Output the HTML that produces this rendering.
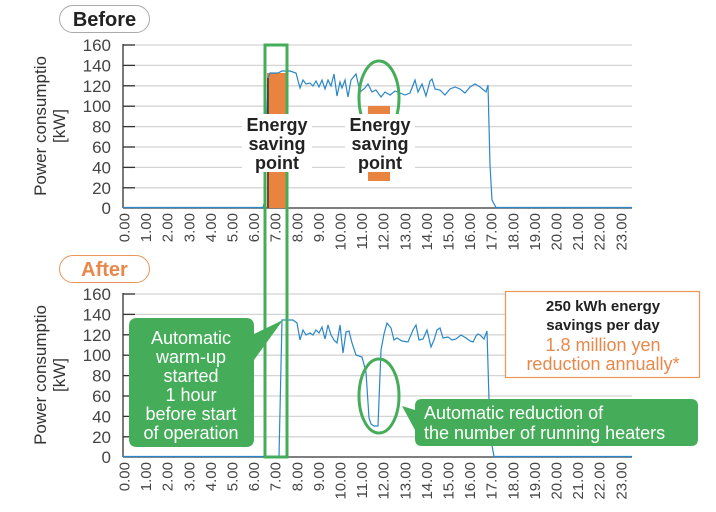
<!DOCTYPE html>
<html><head><meta charset="utf-8"><style>
html,body{margin:0;padding:0;background:#fff;}
svg{display:block;font-family:"Liberation Sans",sans-serif;}
</style></head><body>
<svg width="716" height="512" viewBox="0 0 716 512" xmlns="http://www.w3.org/2000/svg">
<rect x="59.5" y="5.5" width="90" height="27" rx="13.5" fill="#fff" stroke="#aaa" stroke-width="1"/>
<text x="104.5" y="26" text-anchor="middle" font-size="20" font-weight="bold" fill="#222">Before</text>
<rect x="59.5" y="255.5" width="90" height="27" rx="13.5" fill="#fff" stroke="#e8965a" stroke-width="1"/>
<text x="104.5" y="276" text-anchor="middle" font-size="20" font-weight="bold" fill="#e8884a">After</text>

<g stroke="#d4d4d4" stroke-width="1.3">
<line x1="123" y1="45" x2="632" y2="45"/><line x1="123" y1="65.4" x2="632" y2="65.4"/><line x1="123" y1="85.8" x2="632" y2="85.8"/><line x1="123" y1="106.2" x2="632" y2="106.2"/><line x1="123" y1="126.6" x2="632" y2="126.6"/><line x1="123" y1="147" x2="632" y2="147"/><line x1="123" y1="167.4" x2="632" y2="167.4"/><line x1="123" y1="187.8" x2="632" y2="187.8"/>
<line x1="123" y1="294" x2="632" y2="294"/><line x1="123" y1="314.4" x2="632" y2="314.4"/><line x1="123" y1="334.8" x2="632" y2="334.8"/><line x1="123" y1="355.2" x2="632" y2="355.2"/><line x1="123" y1="375.6" x2="632" y2="375.6"/><line x1="123" y1="396" x2="632" y2="396"/><line x1="123" y1="416.4" x2="632" y2="416.4"/><line x1="123" y1="436.8" x2="632" y2="436.8"/>
</g>
<g stroke="#333" stroke-width="1.3">
<line x1="123" y1="44" x2="123" y2="208"/><line x1="123" y1="208" x2="632" y2="208"/>
<line x1="123" y1="293" x2="123" y2="457"/><line x1="123" y1="457" x2="632" y2="457"/>
<line x1="123" y1="45" x2="135" y2="45"/><line x1="123" y1="65.4" x2="135" y2="65.4"/><line x1="123" y1="85.8" x2="135" y2="85.8"/><line x1="123" y1="106.2" x2="135" y2="106.2"/><line x1="123" y1="126.6" x2="135" y2="126.6"/><line x1="123" y1="147" x2="135" y2="147"/><line x1="123" y1="167.4" x2="135" y2="167.4"/><line x1="123" y1="187.8" x2="135" y2="187.8"/>
<line x1="123" y1="294" x2="135" y2="294"/><line x1="123" y1="314.4" x2="135" y2="314.4"/><line x1="123" y1="334.8" x2="135" y2="334.8"/><line x1="123" y1="355.2" x2="135" y2="355.2"/><line x1="123" y1="375.6" x2="135" y2="375.6"/><line x1="123" y1="396" x2="135" y2="396"/><line x1="123" y1="416.4" x2="135" y2="416.4"/><line x1="123" y1="436.8" x2="135" y2="436.8"/>
</g>
<g font-size="17" fill="#444" text-anchor="end">
<text x="111" y="51">160</text><text x="111" y="71.4">140</text><text x="111" y="91.8">120</text><text x="111" y="112.2">100</text><text x="111" y="132.6">80</text><text x="111" y="153">60</text><text x="111" y="173.4">40</text><text x="111" y="193.8">20</text><text x="111" y="214">0</text>
<text x="111" y="300">160</text><text x="111" y="320.4">140</text><text x="111" y="340.8">120</text><text x="111" y="361.2">100</text><text x="111" y="381.6">80</text><text x="111" y="402">60</text><text x="111" y="422.4">40</text><text x="111" y="442.8">20</text><text x="111" y="463">0</text>
</g>
<g font-size="17" fill="#333" text-anchor="middle">
<text transform="translate(46,126) rotate(-90)">Power consumptio</text>
<text transform="translate(65,126) rotate(-90)">[kW]</text>
<text transform="translate(46,375) rotate(-90)">Power consumptio</text>
<text transform="translate(65,375) rotate(-90)">[kW]</text>
</g>
<g font-size="15" fill="#444" text-anchor="end" id="xl"></g>

<rect x="267" y="73" width="20" height="135" fill="#e8843f"/>
<rect x="368" y="106" width="22" height="12" fill="#e8843f"/>
<rect x="368" y="170" width="22" height="11" fill="#e8843f"/>

<polyline fill="none" stroke="#2a87c8" stroke-width="1.2" points="123,207.5 263,207.5 265,200 268,78 270,73 278,73 282,71 290,71 296,73 300,88 303,80 306,84 310,83 313,86 316,81 319,87 322,80 325,89 328,80 331,86 334,74 337,96 340,82 342,88 345,80 348,97 351,80 356,74 360,92 365,88 368,84 372,92 376,90 381,97 385,92 390,95 395,91 400,93 405,95 410,93 415,80 418,92 422,84 426,96 430,81 432,79 435,89 440,90 445,95 450,89 455,87 460,89 465,93 470,87 475,84 480,87 486,92 488,85 490,165 492,200 496,207.5 632,207.5"/>
<line x1="268" y1="208" x2="268" y2="78" stroke="#222" stroke-width="1.2"/>
<polyline fill="none" stroke="#2a87c8" stroke-width="1.2" points="123,456.5 279,456.5 282,320 288,320 293,320 297,323 300,340 303,330 306,335 310,333 313,335 316,330 319,333 322,327 325,339 328,325 331,335 334,340 337,343 340,325 343,353 346,332 349,331 352,343 356,355 362,357 366,372 369,418 371,424 374,426 378,426 381,350 384,334 387,323 391,328 394,340 397,338 402,341 408,342 413,330 416,325 419,340 423,339 427,330 431,347 434,340 437,330 440,328 443,338 448,337 452,340 456,339 461,335 466,338 470,341 473,342 476,336 478,334 480,335 484,339 487,331 489,400 491,440 494,456.5 632,456.5"/>

<rect x="265" y="45" width="22" height="412" fill="none" stroke="#45ad5a" stroke-width="3"/>
<ellipse cx="379" cy="98" rx="20" ry="37" fill="none" stroke="#45ad5a" stroke-width="3"/>
<ellipse cx="379" cy="396" rx="20" ry="37" fill="none" stroke="#45ad5a" stroke-width="3"/>

<rect x="242" y="114" width="70" height="58" fill="#fff"/>
<rect x="345" y="114" width="70" height="58" fill="#fff"/>
<g font-size="18" fill="#222" text-anchor="middle" font-weight="bold">
<text x="277" y="131">Energy</text><text x="277" y="150">saving</text><text x="277" y="169">point</text>
<text x="380" y="131">Energy</text><text x="380" y="150">saving</text><text x="380" y="169">point</text>
</g>

<path d="M137,318 H246 Q254,318 254,326 V334 L283,320 L254,360 V439 Q254,447 246,447 H137 Q129,447 129,439 V326 Q129,318 137,318 Z" fill="#45ad5a"/>
<g font-size="18" fill="#fff" text-anchor="middle">
<text x="191" y="344">Automatic</text><text x="191" y="363">warm-up</text><text x="191" y="382">started</text><text x="191" y="401">1 hour</text><text x="191" y="420">before start</text><text x="191" y="439">of operation</text>
</g>
<path d="M422,399 H691 Q698,399 698,406 V439 Q698,446 691,446 H422 Q415,446 415,439 V430 L402,406 L415,410 V406 Q415,399 422,399 Z" fill="#45ad5a"/>
<g font-size="18" fill="#fff">
<text x="424" y="419">Automatic reduction of</text><text x="424" y="439">the number of running heaters</text>
</g>
<rect x="505.5" y="291.5" width="194" height="86" fill="#fff" stroke="#e8965a" stroke-width="1.2"/>
<g text-anchor="middle" font-size="15">
<text x="603" y="311" fill="#222" font-weight="bold">250 kWh energy</text>
<text x="603" y="330" fill="#222" font-weight="bold">savings per day</text>
<text x="603" y="351" fill="#e8884a" font-size="18">1.8 million yen</text>
<text x="603" y="370" fill="#e8884a" font-size="18">reduction annually*</text>
</g>
</svg>
<script>
var g=document.getElementById('xl'),s='';
for(var h=0;h<24;h++){var x=124+h*21.6+5.5;
['213','462'].forEach(function(y){s+='<text transform="translate('+x+','+y+') rotate(-90)">'+h+'.00</text>';});}
g.innerHTML=s;
</script>
</body></html>
